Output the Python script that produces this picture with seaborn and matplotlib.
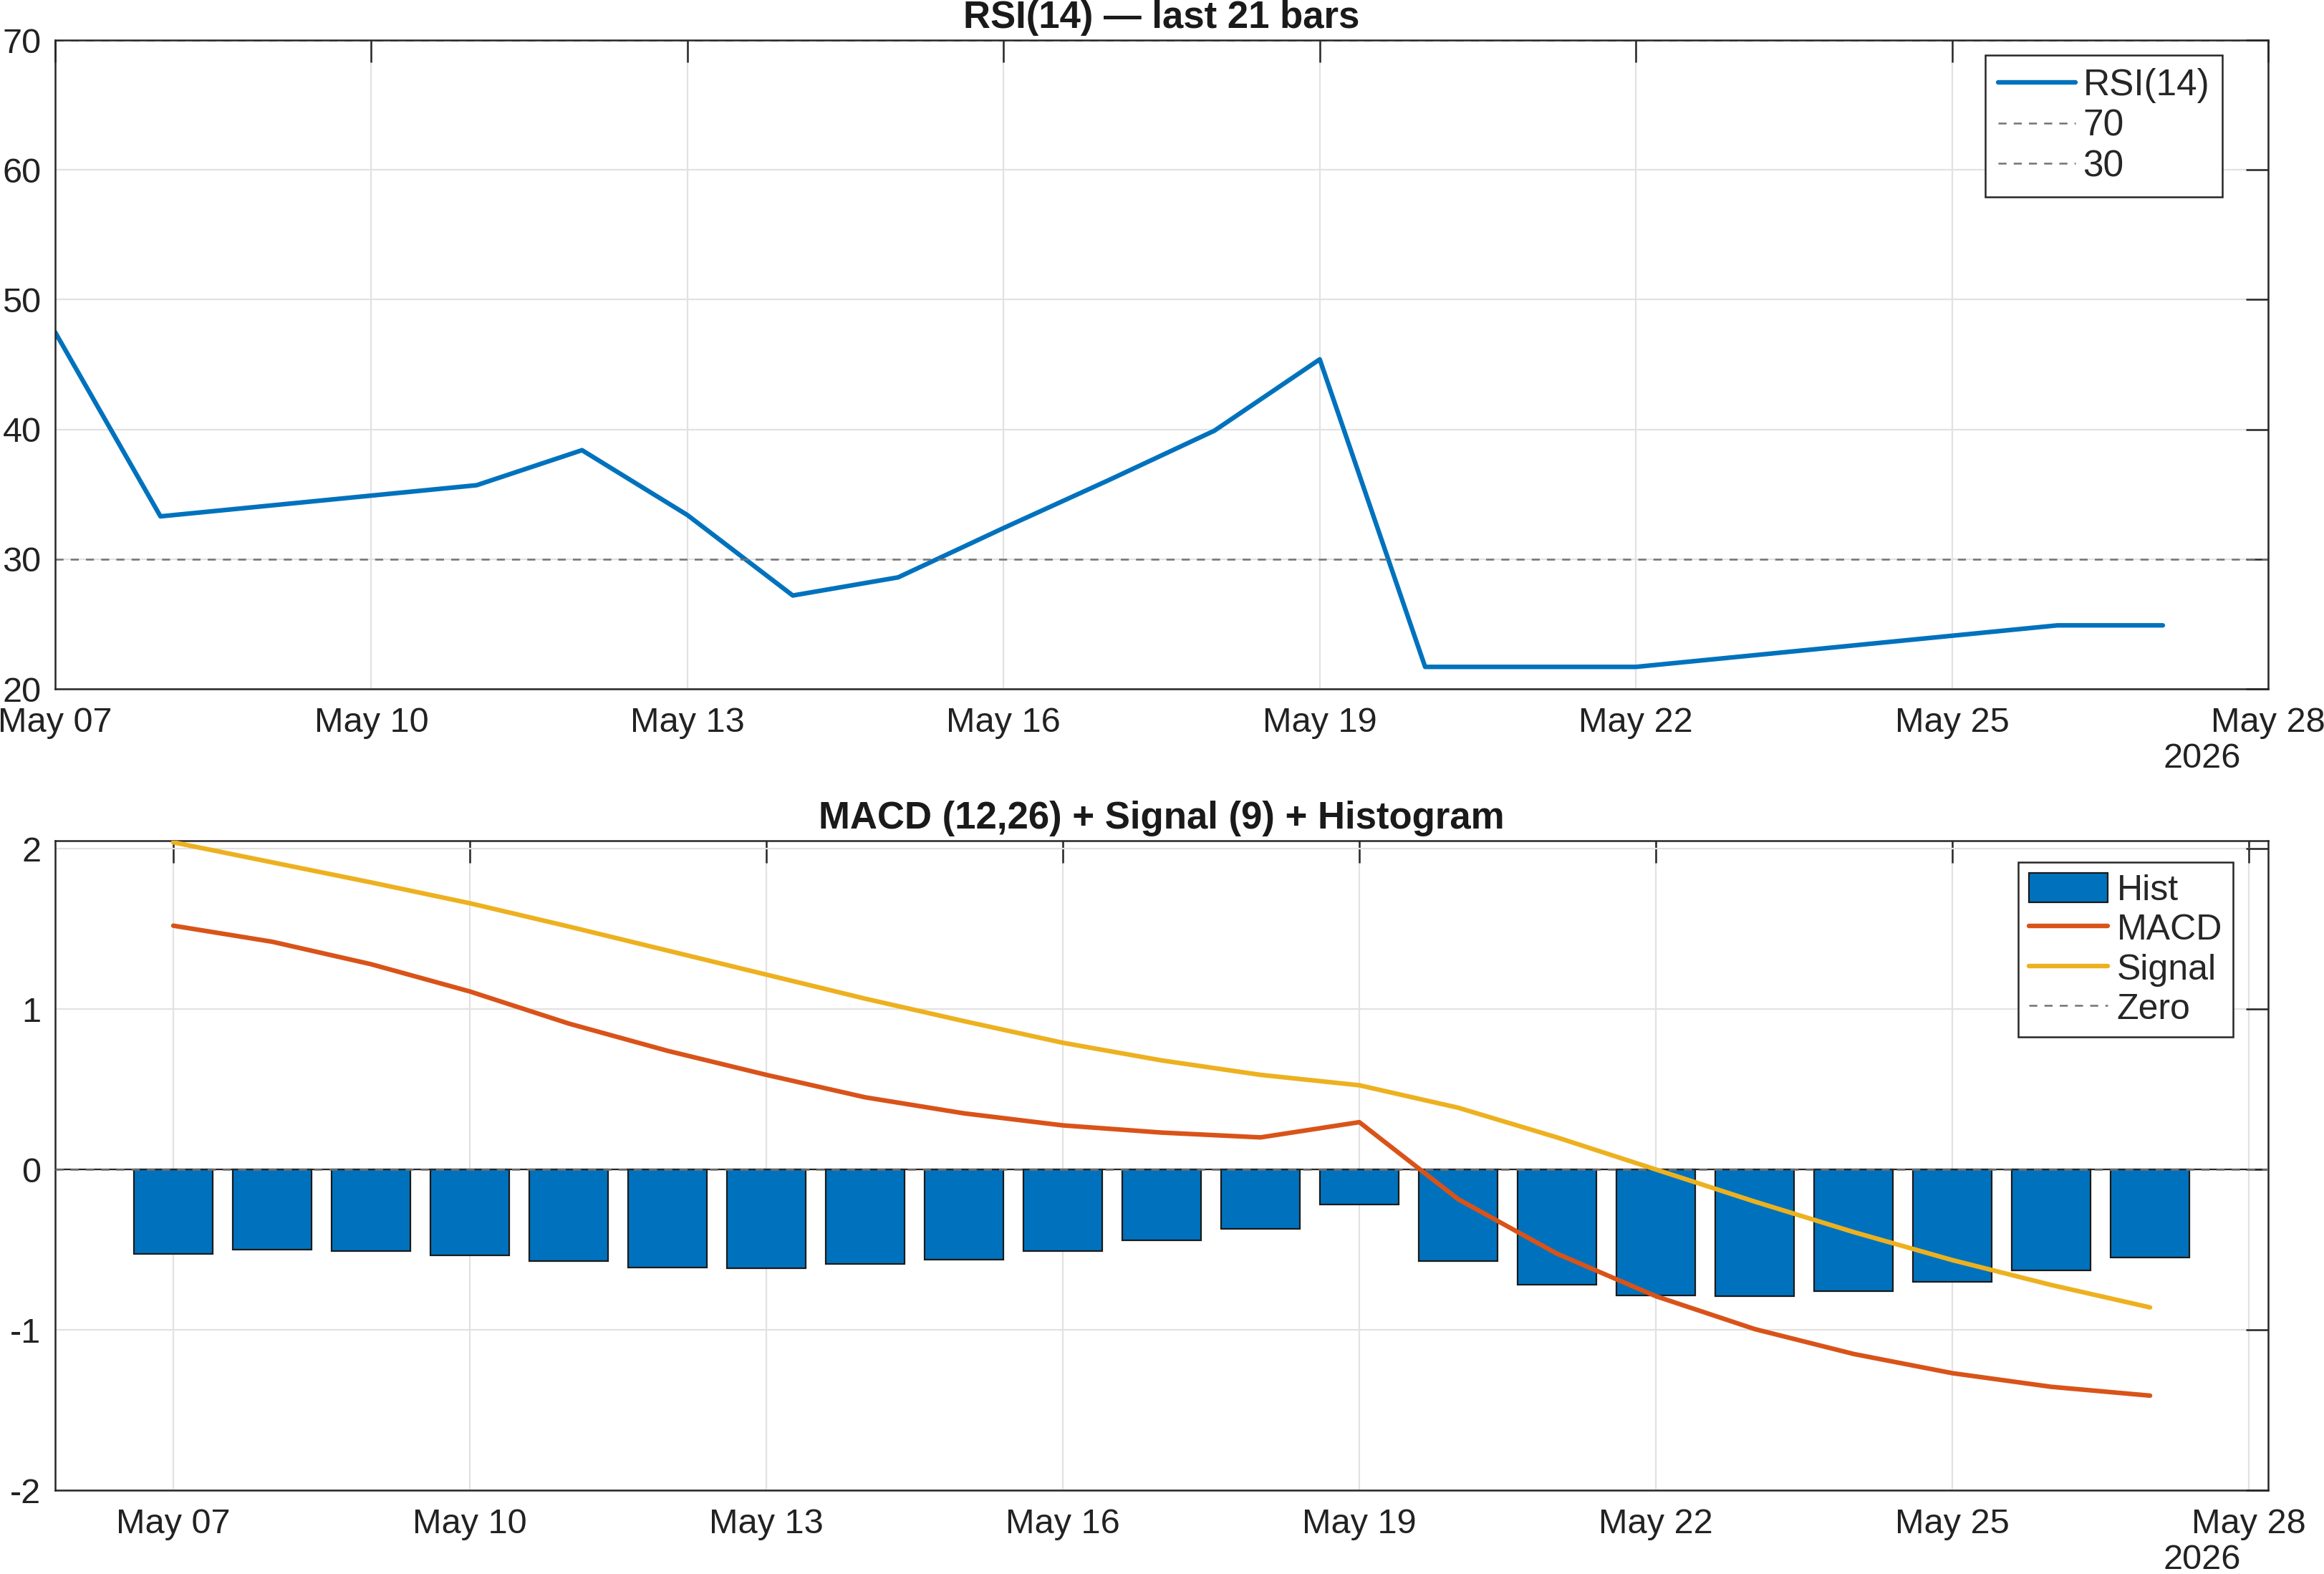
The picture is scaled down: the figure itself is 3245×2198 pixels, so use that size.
import numpy as np
import pandas as pd
import matplotlib
matplotlib.use("Agg")
import matplotlib.pyplot as plt
import matplotlib.dates as mdates
import seaborn as sns

# data
dates = pd.date_range("2026-05-07", "2026-05-27", freq="D")
rsi = [47.5, 33.3, 34.1, 34.9, 35.7, 38.4, 33.4, 27.2, 28.6, 32.4, 36.1,
       39.9, 45.4, 21.7, 21.7, 21.7, 22.5, 23.3, 24.1, 24.9, 24.9]
macd = [1.52, 1.42, 1.28, 1.11, 0.91, 0.74, 0.59, 0.45, 0.35, 0.275, 0.23,
        0.20, 0.295, -0.185, -0.525, -0.79, -0.995, -1.15, -1.27, -1.355, -1.41]
signal = [2.04, 1.915, 1.79, 1.66, 1.515, 1.365, 1.215, 1.065, 0.925, 0.79, 0.68,
          0.59, 0.525, 0.385, 0.20, 0.0, -0.20, -0.39, -0.565, -0.72, -0.86]
hist = [-0.525, -0.50, -0.51, -0.535, -0.57, -0.61, -0.615, -0.59, -0.56, -0.51, -0.44,
        -0.37, -0.22, -0.57, -0.72, -0.785, -0.79, -0.76, -0.70, -0.63, -0.55]
rsi_levels = [70, 30]

df = pd.DataFrame({"date": dates, "rsi": rsi, "macd": macd, "signal": signal, "hist": hist})

sns.set_theme(style="white")
plt.rcParams["font.family"] = ["Liberation Sans", "DejaVu Sans"]
plt.rcParams["axes.unicode_minus"] = False

BLUE = "#0072BD"
ORANGE = "#D95319"
YELLOW = "#EDB120"
GRAY = "#737373"
AX = "#262626"

fig = plt.figure(figsize=(16.225, 10.99), dpi=200)
ax1 = fig.add_axes([0.0237, 0.5623, 0.9523, 0.4122])
ax2 = fig.add_axes([0.0237, 0.0532, 0.9523, 0.4127])


def style_axes(ax):
    # matlab look: box on, ticks inward on all sides, light grid
    for s in ax.spines.values():
        s.set_color(AX)
        s.set_linewidth(0.9)
    ax.tick_params(direction="in", top=True, right=True, length=11, width=0.9,
                   color=AX, labelsize=17.5, labelcolor="#222222")
    ax.tick_params(axis="x", pad=9)
    ax.tick_params(axis="y", pad=7)
    ax.grid(True, color="#e2e2e2", linewidth=0.8)
    ax.set_axisbelow(True)
    ax.xaxis.set_major_locator(mdates.DayLocator(bymonthday=[1, 4, 7, 10, 13, 16, 19, 22, 25, 28]))
    ax.xaxis.set_major_formatter(mdates.DateFormatter("%b %d"))
    ax.annotate("2026", xy=(0.970, 0), xycoords="axes fraction", xytext=(0, -35),
                textcoords="offset points", ha="center", va="center",
                fontsize=17.5, color="#222222")
    ax.set_xlabel("")
    ax.set_ylabel("")


# --- RSI panel ---
sns.lineplot(data=df, x="date", y="rsi", color=BLUE, linewidth=2.3, label="RSI(14)", ax=ax1)
for lvl in rsi_levels:
    ax1.axhline(lvl, color=GRAY, linewidth=0.9, dashes=(4.5, 4), label=str(lvl))
ax1.set_xlim(pd.Timestamp("2026-05-07"), pd.Timestamp("2026-05-28"))
ax1.set_ylim(20, 70)
ax1.set_yticks(range(20, 71, 10))
style_axes(ax1)
ax1.set_title("RSI(14) \u2014 last 21 bars", fontsize=19, fontweight="bold", pad=6, color="#1a1a1a")
leg1 = ax1.legend(loc="upper right", bbox_to_anchor=(0.9793, 0.9768), borderaxespad=0,
                  fontsize=18.5, frameon=True, fancybox=False, framealpha=1,
                  edgecolor=AX, handlelength=2.1, handletextpad=0.2, labelspacing=0.15,
                  borderpad=0.35)
leg1.get_frame().set_linewidth(0.9)

# --- MACD panel ---
ax2.bar(df["date"], df["hist"], width=0.8, color=BLUE, edgecolor="#1a1a1a",
        linewidth=0.8, label="Hist", zorder=2)
ax2.axhline(0, color=AX, linewidth=0.8, zorder=2.5)
sns.lineplot(data=df, x="date", y="macd", color=ORANGE, linewidth=2.3, label="MACD", ax=ax2, zorder=3)
sns.lineplot(data=df, x="date", y="signal", color=YELLOW, linewidth=2.3, label="Signal", ax=ax2, zorder=3)
ax2.axhline(0, color=GRAY, linewidth=0.9, dashes=(4.5, 4), label="Zero", zorder=2.6)
ax2.set_xlim(pd.Timestamp("2026-05-07") - pd.Timedelta(hours=28.7),
             pd.Timestamp("2026-05-28") + pd.Timedelta(hours=4.7))
ax2.set_ylim(-2, 2.05)
ax2.set_yticks([-2, -1, 0, 1, 2])
style_axes(ax2)
ax2.set_title("MACD (12,26) + Signal (9) + Histogram", fontsize=19, fontweight="bold",
              pad=6, color="#1a1a1a")
h, l = ax2.get_legend_handles_labels()
order = [l.index(k) for k in ["Hist", "MACD", "Signal", "Zero"]]
leg2 = ax2.legend([h[i] for i in order], [l[i] for i in order], loc="upper right",
                  bbox_to_anchor=(0.9841, 0.967), borderaxespad=0, fontsize=18,
                  frameon=True, fancybox=False, framealpha=1, edgecolor=AX,
                  handlelength=2.2, handleheight=0.9, handletextpad=0.25,
                  labelspacing=0.15, borderpad=0.3)
leg2.get_frame().set_linewidth(0.9)

fig.savefig("out.png", dpi=200, facecolor="white")
